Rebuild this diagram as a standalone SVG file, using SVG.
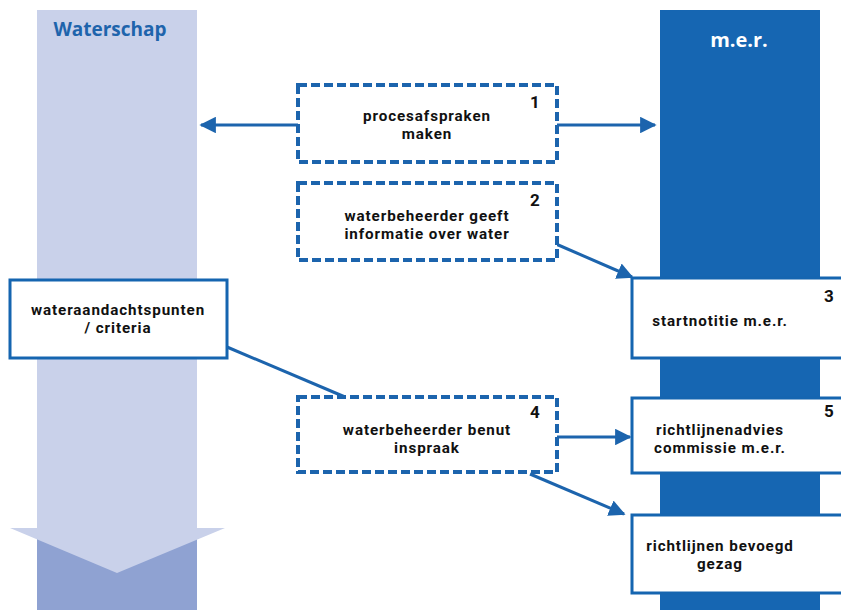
<svg xmlns="http://www.w3.org/2000/svg" width="841" height="610" viewBox="0 0 841 610">
<defs>
<style>
.t{font-family:Roboto,"Liberation Sans",sans-serif;font-weight:bold;font-size:15.2px;letter-spacing:0.9px;fill:#111;text-anchor:middle}
.n{font-family:Roboto,"Liberation Sans",sans-serif;font-weight:bold;font-size:17px;fill:#111;text-anchor:middle}
.dash{fill:#fff;stroke:#1c64ad;stroke-width:4;stroke-dasharray:9 4}
.solid{fill:#fff;stroke:#1565b0;stroke-width:3}
.conn{stroke:#1c64ad;stroke-width:3;fill:none}
</style>
<marker id="ah" viewBox="0 0 10 10" refX="9" refY="5" markerWidth="5.5" markerHeight="5.5" orient="auto" markerUnits="strokeWidth">
<path d="M0,0 L10,5 L0,10 z" fill="#1c64ad"/>
</marker>
</defs>
<rect width="841" height="610" fill="#fff"/>
<g id="waterschap">
<rect x="37" y="10" width="160" height="600" fill="#8fa2d2"/>
<polygon points="37,10 197,10 197,528 225,528 117,573 10,528 37,528" fill="#c9d1ea"/>
<text x="110" y="36" font-family="Open Sans,Noto Sans,Liberation Sans,sans-serif" font-weight="bold" font-size="19" fill="#1e64ac" text-anchor="middle">Waterschap</text>
</g>
<g id="mer">
<rect x="660" y="10" width="160" height="600" fill="#1666b2"/>
<text x="739" y="47" font-family="Open Sans,Noto Sans,Liberation Sans,sans-serif" font-weight="bold" font-size="20" fill="#fff" text-anchor="middle">m.e.r.</text>
</g>
<g id="connectors">
<line class="conn" x1="298" y1="125" x2="201" y2="125" marker-end="url(#ah)"/>
<line class="conn" x1="557" y1="125" x2="655" y2="125" marker-end="url(#ah)"/>
<line class="conn" x1="556" y1="244" x2="632" y2="277" marker-end="url(#ah)"/>
<line class="conn" x1="227" y1="347" x2="345" y2="397"/>
<line class="conn" x1="557" y1="437" x2="630" y2="437" marker-end="url(#ah)"/>
<line class="conn" x1="530" y1="474" x2="624" y2="514" marker-end="url(#ah)"/>
</g>
<g id="node1">
<rect class="dash" x="298" y="85" width="259" height="77"/>
<text class="n" x="535" y="108">1</text>
<text class="t" x="427" y="121">procesafspraken</text>
<text class="t" x="427" y="139">maken</text>
</g>
<g id="node2">
<rect class="dash" x="298" y="183" width="259" height="77"/>
<text class="n" x="535" y="206">2</text>
<text class="t" x="427" y="221">waterbeheerder geeft</text>
<text class="t" x="427" y="239">informatie over water</text>
</g>
<g id="node3">
<rect class="solid" x="632" y="278" width="215" height="80"/>
<text class="n" x="829" y="302">3</text>
<text class="t" x="720" y="326">startnotitie m.e.r.</text>
</g>
<g id="nodeW">
<rect class="solid" x="10" y="280" width="217" height="78"/>
<text class="t" x="118" y="315">wateraandachtspunten</text>
<text class="t" x="118" y="333">/ criteria</text>
</g>
<g id="node4">
<rect class="dash" x="298" y="397" width="259" height="75"/>
<text class="n" x="535" y="418">4</text>
<text class="t" x="427" y="435">waterbeheerder benut</text>
<text class="t" x="427" y="453">inspraak</text>
</g>
<g id="node5">
<rect class="solid" x="632" y="398" width="215" height="75"/>
<text class="n" x="829" y="417">5</text>
<text class="t" x="720" y="435">richtlijnenadvies</text>
<text class="t" x="720" y="453">commissie m.e.r.</text>
</g>
<g id="node6">
<rect class="solid" x="632" y="515" width="215" height="78"/>
<text class="t" x="720" y="551">richtlijnen bevoegd</text>
<text class="t" x="720" y="569">gezag</text>
</g>
</svg>
